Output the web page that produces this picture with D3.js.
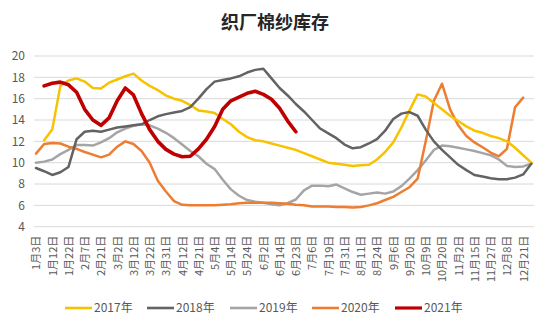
<!DOCTYPE html>
<html>
<head>
<meta charset="utf-8">
<script src="https://cdn.jsdelivr.net/npm/d3@7"></script>
<style>
  html, body { margin: 0; padding: 0; background: #fff; }
  svg { display: block; font-family: "Noto Sans CJK SC", "Noto Sans", sans-serif; }
</style>
</head>
<body>
<svg id="chart" width="550" height="331"></svg>
<script>
// Weekly category slots; every other slot carries a date label.
const slotCount = 62;
const xLabels = ["1月3日","1月12日","1月22日","2月7日","2月21日","3月2日","3月12日","3月22日",
  "3月31日","4月12日","4月21日","5月4日","5月14日","5月24日","6月2日","6月14日","6月23日",
  "7月6日","7月19日","7月31日","8月11日","8月24日","9月6日","9月20日","10月9日","10月20日",
  "11月2日","11月15日","11月27日","12月8日","12月21日"];
const yTicks = [4, 6, 8, 10, 12, 14, 16, 18, 20];

const seriesNames = ["2017年", "2018年", "2019年", "2020年", "2021年"];

const v2017 = [null, 12.1, 13.1, 17.2, 17.7, 17.9, 17.6, 17.0, 16.95, 17.5, 17.8, 18.1, 18.35, 17.7, 17.2, 16.8,
  16.3, 16.0, 15.8, 15.4, 14.9, 14.8, 14.65, 14.1, 13.6, 12.9, 12.4, 12.1, 12.0, 11.8, 11.6, 11.4,
  11.2, 10.9, 10.6, 10.3, 10.0, 9.9, 9.8, 9.7, 9.75, 9.8, 10.3, 11.0, 11.9, 13.3, 14.9, 16.4,
  16.2, 15.6, 15.0, 14.4, 13.9, 13.4, 13.0, 12.8, 12.5, 12.3, 12.0, 11.4, 10.7, 10.0];

const v2018 = [9.5, 9.2, 8.85, 9.1, 9.6, 12.2, 12.9, 13.0, 12.9, 13.1, 13.3, 13.4, 13.5, 13.6, 14.0, 14.35,
  14.55, 14.7, 14.85, 15.2, 16.0, 16.9, 17.6, 17.75, 17.9, 18.1, 18.45, 18.7, 18.8, 17.9, 17.0, 16.3,
  15.5, 14.8, 14.0, 13.2, 12.75, 12.3, 11.7, 11.35, 11.45, 11.8, 12.2, 13.0, 14.1, 14.6, 14.75, 14.4,
  13.1, 12.0, 11.2, 10.5, 9.8, 9.3, 8.85, 8.7, 8.55, 8.45, 8.45, 8.6, 8.9, 9.9];

const v2019 = [10.0, 10.1, 10.3, 10.8, 11.2, 11.65, 11.65, 11.6, 11.9, 12.3, 12.85, 13.2, 13.45, 13.6, 13.5, 13.2,
  12.8, 12.3, 11.7, 11.1, 10.6, 9.9, 9.4, 8.4, 7.5, 6.9, 6.5, 6.35, 6.25, 6.1, 6.0, 6.2,
  6.55, 7.4, 7.85, 7.85, 7.8, 7.95, 7.6, 7.25, 7.0, 7.1, 7.2, 7.1, 7.3, 7.8, 8.5, 9.3,
  10.2, 11.2, 11.6, 11.55, 11.4, 11.25, 11.1, 10.9, 10.7, 10.3, 9.7, 9.6, 9.65, 9.9];

const v2020 = [10.85, 11.75, 11.85, 11.8, 11.5, 11.3, 11.0, 10.75, 10.5, 10.75, 11.5, 12.0, 11.75, 11.1, 10.0, 8.3,
  7.3, 6.4, 6.05, 6.0, 6.0, 6.0, 6.0, 6.05, 6.1, 6.2, 6.25, 6.25, 6.25, 6.25, 6.2, 6.15,
  6.05, 6.0, 5.9, 5.9, 5.9, 5.85, 5.85, 5.8, 5.85, 6.0, 6.2, 6.5, 6.8, 7.25, 7.7, 8.5,
  12.0, 15.8, 17.4, 15.0, 13.5, 12.5, 11.9, 11.45, 10.95, 10.6, 11.3, 15.2, 16.1, null];

const v2021 = [null, 17.2, 17.45, 17.55, 17.3, 16.6, 15.0, 14.0, 13.5, 14.2, 15.8, 17.0, 16.35, 14.6, 13.1, 12.0,
  11.25, 10.8, 10.55, 10.6, 11.3, 12.2, 13.4, 15.0, 15.8, 16.15, 16.5, 16.7, 16.4, 15.95, 15.1, 13.9,
  12.9];

const seriesValues = [v2017, v2018, v2019, v2020, v2021];
const seriesColors = ["#F7C200", "#636363", "#A5A5A5", "#ED7D31", "#C00000"];
const seriesWidths = [2.5, 2.5, 2.5, 2.5, 3.6];

const svg = d3.select("#chart");
const plotLeft = 34, plotRight = 534, plotTop = 56, plotBottom = 226.7;

const x = d3.scalePoint().domain(d3.range(slotCount)).range([36, 531.3]);
const y = d3.scaleLinear().domain([4, 20]).range([plotBottom, plotTop]);

// Title
svg.append("text")
  .attr("x", 275).attr("y", 29)
  .attr("text-anchor", "middle")
  .attr("font-size", 18).attr("font-weight", "bold")
  .attr("fill", "#262626")
  .text("织厂棉纱库存");

// Horizontal gridlines
svg.append("g").selectAll("line").data(yTicks).join("line")
  .attr("x1", plotLeft).attr("x2", plotRight)
  .attr("y1", d => y(d)).attr("y2", d => y(d))
  .attr("stroke", "#D9D9D9").attr("stroke-width", 1);

// Y axis labels
const yAxis = svg.append("g")
  .attr("transform", `translate(${plotLeft},0)`)
  .call(d3.axisLeft(y).tickValues(yTicks).tickSize(0).tickPadding(9));
yAxis.select(".domain").remove();
yAxis.selectAll("text")
  .attr("font-size", 12).attr("fill", "#595959")
  .style("font-family", "\"Noto Sans CJK SC\", sans-serif");

// X axis labels (rotated)
const labelSlots = xLabels.map((_, i) => i * 2);
const xAxis = svg.append("g")
  .attr("transform", `translate(0,${plotBottom})`)
  .call(d3.axisBottom(x).tickValues(labelSlots).tickSize(0)
    .tickFormat(d => xLabels[d / 2]));
xAxis.select(".domain").remove();
xAxis.selectAll("text")
  .attr("transform", "rotate(-90)")
  .attr("x", -9).attr("y", 0).attr("dy", "0.35em")
  .style("text-anchor", "end")
  .attr("font-size", 11).attr("fill", "#595959")
  .style("font-family", "\"Noto Sans CJK SC\", sans-serif");

// Series lines
const line = d3.line()
  .defined(d => d.v != null)
  .x(d => x(d.i))
  .y(d => y(d.v));

const order = [2, 3, 0, 1, 4];
order.forEach(k => {
  const pts = seriesValues[k].map((v, i) => ({ i, v }));
  svg.append("path")
    .datum(pts)
    .attr("d", line)
    .attr("fill", "none")
    .attr("stroke", seriesColors[k])
    .attr("stroke-width", seriesWidths[k])
    .attr("stroke-linejoin", "round")
    .attr("stroke-linecap", "round");
});

// Legend
const legendX = [65, 147, 230, 312, 395];
const legend = svg.append("g");
seriesNames.forEach((name, k) => {
  const g = legend.append("g").attr("transform", `translate(${legendX[k]},308)`);
  g.append("line")
    .attr("x1", 0).attr("x2", 27).attr("y1", 0).attr("y2", 0)
    .attr("stroke", seriesColors[k]).attr("stroke-width", k === 4 ? 3.2 : 2.6);
  g.append("text")
    .attr("x", 29).attr("y", 0).attr("dy", "0.35em")
    .attr("font-size", 12).attr("fill", "#595959")
    .text(name);
});
</script>
</body>
</html>
